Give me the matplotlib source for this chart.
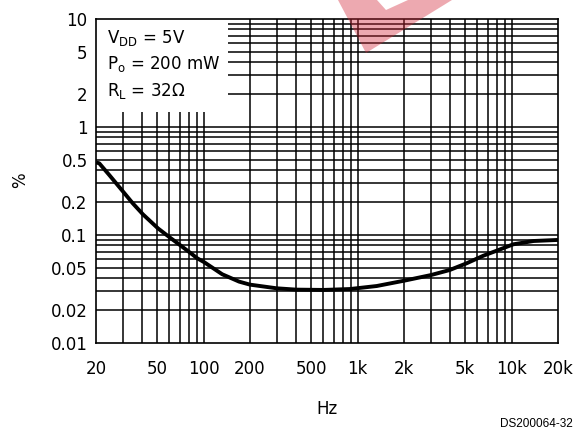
import matplotlib
matplotlib.use("Agg")
import matplotlib.pyplot as plt
from matplotlib.patches import Rectangle, Polygon

# Data
freq_hz = [20, 21, 24.4, 30, 34.6, 40.4, 50.6, 60.6, 71.1, 81, 91, 101, 132, 170,
           200, 298, 400, 598, 890, 1330, 2014, 3000, 3960, 5100, 6550, 8000,
           10250, 13870, 20000]
thd_pct = [0.47, 0.461, 0.359, 0.252, 0.197, 0.155, 0.115, 0.0944, 0.0796,
           0.0692, 0.0608, 0.0559, 0.0433, 0.0370, 0.0347, 0.0321, 0.0312,
           0.0310, 0.0316, 0.0337, 0.0378, 0.0426, 0.0474, 0.0547, 0.0643,
           0.0716, 0.082, 0.088, 0.090]

x_tick_vals = [20, 50, 100, 200, 500, 1000, 2000, 5000, 10000, 20000]
x_tick_labels = ["20", "50", "100", "200", "500", "1k", "2k", "5k", "10k", "20k"]
y_tick_vals = [0.01, 0.02, 0.05, 0.1, 0.2, 0.5, 1, 2, 5, 10]
y_tick_labels = ["0.01", "0.02", "0.05", "0.1", "0.2", "0.5", "1", "2", "5", "10"]

x_grid = [30, 40, 50, 60, 70, 80, 90, 100, 200, 300, 400, 500, 600, 700, 800,
          900, 1000, 2000, 3000, 4000, 5000, 6000, 7000, 8000, 9000, 10000]
y_grid = [0.02, 0.03, 0.04, 0.05, 0.06, 0.07, 0.08, 0.09, 0.1,
          0.2, 0.3, 0.4, 0.5, 0.6, 0.7, 0.8, 0.9, 1,
          2, 3, 4, 5, 6, 7, 8, 9]

conditions = [r"V$_{\mathrm{DD}}$ = 5V", r"P$_{\mathrm{o}}$ = 200 mW", r"R$_{\mathrm{L}}$ = 32$\Omega$"]

plt.rcParams['mathtext.default'] = 'regular'
fig = plt.figure(figsize=(5.75, 4.3), dpi=100)
ax = fig.add_axes([96/575, 1-343/430, (558-96)/575, (343-19)/430])
ax.set_xscale('log')
ax.set_yscale('log')
ax.set_xlim(20, 20000)
ax.set_ylim(0.01, 10)

for xv in x_grid:
    ax.axvline(xv, color='black', lw=1.1, zorder=1)
for yv in y_grid:
    ax.axhline(yv, color='black', lw=1.1, zorder=1)

# white box for conditions
ax.add_patch(Rectangle((0, (343-112)/324), (228-96)/462, 1-(343-112)/324,
                       transform=ax.transAxes, facecolor='white', edgecolor='none', zorder=2))
for i, t in enumerate(conditions):
    ax.text((107-96)/462, 1-(19+26.5*i)/324, t, transform=ax.transAxes,
            fontsize=12, va='center', ha='left', zorder=3)

ax.plot(freq_hz, thd_pct, color='black', lw=2.8, zorder=4,
        solid_capstyle='butt', solid_joinstyle='round')

ax.set_xticks(x_tick_vals)
ax.set_xticklabels(x_tick_labels)
ax.set_yticks(y_tick_vals)
ax.set_yticklabels(y_tick_labels)
ax.minorticks_off()
ax.tick_params(axis='both', length=0, labelsize=12)
ax.tick_params(axis='x', pad=12)
ax.tick_params(axis='y', pad=6)
for s in ax.spines.values():
    s.set_linewidth(1.2)
    s.set_zorder(5)

ax.set_xlabel("Hz", fontsize=12, labelpad=16)
fig.text(20/575, 1-180/430, "%", fontsize=12, rotation=90, ha='center', va='center')

fig.text(573/575, 1-424/430, "DS200064-32", fontsize=8.5, family='Liberation Sans',
         ha='right', va='center')

# watermark decoration
def P(x, y):
    return (x/575, 1-y/430)
wm = Polygon([P(338, 0), P(366, 53), P(452, 0), P(408, 0), P(386, 10), P(377, 0)],
             closed=True, transform=fig.transFigure, facecolor='#d42a3a',
             edgecolor='none', alpha=0.40, zorder=10)
fig.add_artist(wm)

fig.savefig("out.png", dpi=100)
